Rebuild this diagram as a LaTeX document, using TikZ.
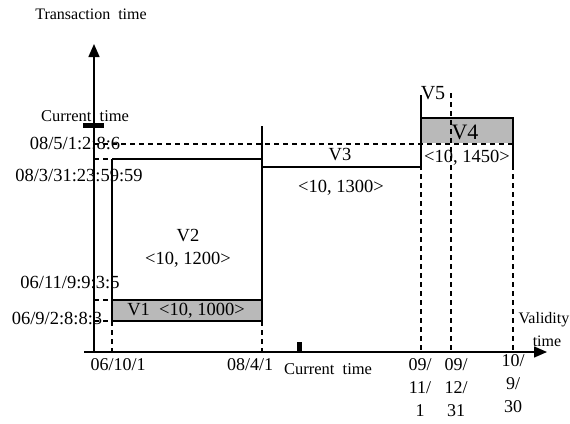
\documentclass[tikz,border=0pt]{standalone}
\usepackage{fontspec}
\setmainfont{Liberation Serif}
\usetikzlibrary{arrows.meta}
\begin{document}
\begin{tikzpicture}[x=1pt,y=-1pt,
  axis/.style={line width=1.4pt,-{Triangle[length=13pt,width=11pt]}},
  edge/.style={line width=1.1pt},
  guide/.style={line width=1.1pt,dash pattern=on 5pt off 4pt},
  lbl/.style={inner sep=0pt,font=\fontsize{18.5}{20}\selectfont},
  small/.style={inner sep=0pt,font=\fontsize{16}{18}\selectfont},
  tick/.style={inner sep=0pt,font=\fontsize{18}{23}\selectfont,align=center,anchor=north}]
\useasboundingbox (0,0) rectangle (570,423);
% coordinates
\coordinate (O) at (94,352);
\coordinate (Ytop) at (94,44);
\coordinate (Xl) at (84,352);
\coordinate (Xr) at (547,352);
% fills
\fill[gray!55] (112,300) rectangle (262,321);
\fill[gray!55] (421,118) rectangle (513,143);
% axes
\draw[axis] (O) -- (Ytop);
\draw[axis] (Xl) -- (Xr);
% current time markers
\fill (83,123) rectangle (104,128);
\fill (296.5,342) rectangle (301.5,353);
% horizontal guides
\draw[guide] (94,144) -- (513,144);
\draw[guide] (94,159) -- (112,159);
\draw[guide] (94,300) -- (112,300);
\draw[guide] (94,321) -- (112,321);
% V2
\draw[edge] (112,159) -- (262,159);
\draw[edge] (112,159) -- (112,321);
\draw[edge] (262,126) -- (262,300);
% V1
\draw[line width=2pt] (112,300) -- (262,300);
\draw[edge] (262,300) -- (262,321) -- (112,321);
% V3
\draw[edge] (262,167) -- (421,167);
% V4 / V5
\draw[edge] (421,95) -- (421,165);
\draw[edge] (421,118) -- (513,118) -- (513,165);
% vertical guides
\draw[guide] (112,321) -- (112,352);
\draw[guide] (262,321) -- (262,352);
\draw[guide] (421,165) -- (421,352);
\draw[guide] (513,165) -- (513,352);
\draw[guide] (451,93) -- (451,352);
% labels
\node[small] at (91,14) {Transaction\ \ time};
\node[lbl,font=\fontsize{16.5}{18}\selectfont] at (85,116) {Current\ \ time};
\node[lbl] at (75,143) {08/5/1:2:8:6};
\node[lbl] at (79,175) {08/3/31:23:59:59};
\node[lbl] at (70,282) {06/11/9:9:3:5};
\node[lbl] at (57,318) {06/9/2:8:8:3};
\node[lbl] at (186,311) {V1\ \ \textless10, 1000\textgreater};
\node[lbl] at (188,236) {V2};
\node[lbl] at (188,260) {\textless10, 1200\textgreater};
\node[lbl] at (340,155) {V3};
\node[lbl] at (341,188) {\textless10, 1300\textgreater};
\node[lbl,font=\fontsize{22}{24}\selectfont] at (465,132) {V4};
\node[lbl,font=\fontsize{20}{22}\selectfont] at (433,93) {V5};
\node[lbl] at (467,158) {\textless10, 1450\textgreater};
\node[tick] at (118,358) {06/10/1};
\node[tick] at (250,358) {08/4/1};
\node[lbl,font=\fontsize{16.5}{18}\selectfont] at (328,369) {Current\ \ time};
\node[tick] at (420,358) {09/\\11/\\1};
\node[tick] at (456,358) {09/\\12/\\31};
\node[tick] at (513,354) {10/\\9/\\30};
\node[small] at (544,320) {Validity};
\node[small] at (547,341) {time};
\end{tikzpicture}
\end{document}
